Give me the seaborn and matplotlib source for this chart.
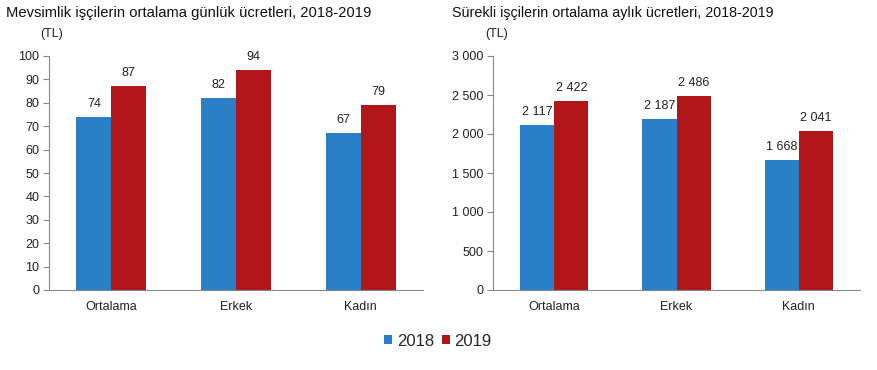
import matplotlib
matplotlib.use("Agg")
import matplotlib.pyplot as plt
import seaborn as sns
import pandas as pd
from matplotlib.patches import Patch

sns.set_theme(style="white")
plt.rcParams['font.family'] = ['Liberation Sans', 'DejaVu Sans']

categories = ["Ortalama", "Erkek", "Kadın"]
years = ["2018", "2019"]
daily_2018 = [74, 82, 67]
daily_2019 = [87, 94, 79]
monthly_2018 = [2117, 2187, 1668]
monthly_2019 = [2422, 2486, 2041]

title_left = "Mevsimlik işçilerin ortalama günlük ücretleri, 2018-2019"
title_right = "Sürekli işçilerin ortalama aylık ücretleri, 2018-2019"
unit = "(TL)"

colors = {"2018": "#2B7FC6", "2019": "#B0161A"}

def make_df(a, b):
    rows = []
    for c, v in zip(categories, a):
        rows.append({"cat": c, "year": "2018", "val": v})
    for c, v in zip(categories, b):
        rows.append({"cat": c, "year": "2019", "val": v})
    return pd.DataFrame(rows)

def fmt_space(v):
    return f"{int(v):,}".replace(",", " ")

fig = plt.figure(figsize=(8.78, 3.70), dpi=100)
ax1 = fig.add_axes([49/878, 1-290/370, (423-49)/878, (290-56)/370])
ax2 = fig.add_axes([493/878, 1-290/370, (860-493)/878, (290-56)/370])

def draw(ax, df, ymax, step, fmt):
    sns.barplot(data=df, x="cat", y="val", hue="year", palette=colors,
                width=0.56, gap=0, ax=ax, legend=False, saturation=1,
                linewidth=0, edgecolor="none")
    for cont in ax.containers:
        ax.bar_label(cont, labels=[fmt(v) for v in cont.datavalues],
                     padding=5, fontsize=9, color="#222222")
    ax.set_ylim(0, ymax)
    ticks = list(range(0, ymax + 1, step))
    ax.set_yticks(ticks)
    ax.set_yticklabels([fmt(t) for t in ticks], fontsize=9, color="#222222")
    ax.set_xlim(-0.5, 2.5)
    ax.set_xticks([0, 1, 2])
    ax.set_xticklabels(categories, fontsize=9, color="#222222")
    ax.set_xticks([-0.5, 0.5, 1.5, 2.5], minor=True)
    ax.tick_params(axis="x", which="major", length=0, pad=8)
    ax.tick_params(axis="x", which="minor", length=4, color="#888888", width=0.8, direction="out")
    ax.tick_params(axis="y", length=4, color="#888888", width=0.8, direction="out", left=True, pad=3)
    ax.set_xlabel("")
    ax.set_ylabel("")
    for s in ["top", "right"]:
        ax.spines[s].set_visible(False)
    for s in ["left", "bottom"]:
        ax.spines[s].set_color("#888888")
        ax.spines[s].set_linewidth(0.8)

draw(ax1, make_df(daily_2018, daily_2019), 100, 10, lambda v: str(int(v)))
draw(ax2, make_df(monthly_2018, monthly_2019), 3000, 500, fmt_space)

fig.text(6/878, 1-13/370, title_left, fontsize=10.6, va="center", ha="left", color="#111111")
fig.text(452/878, 1-13/370, title_right, fontsize=10.3, va="center", ha="left", color="#111111")
fig.text(40/878, 1-34/370, unit, fontsize=9, va="center", ha="left", color="#222222")
fig.text(485/878, 1-34/370, unit, fontsize=9, va="center", ha="left", color="#222222")

handles = [Patch(facecolor=colors[y], edgecolor="none") for y in years]
fig.legend(handles, years, loc="center", bbox_to_anchor=(438/878, 1-341/370),
           ncol=2, frameon=False, fontsize=12, handlelength=0.5, handleheight=0.5,
           handletextpad=0.25, columnspacing=0.5)

fig.savefig("out.png", dpi=100)
